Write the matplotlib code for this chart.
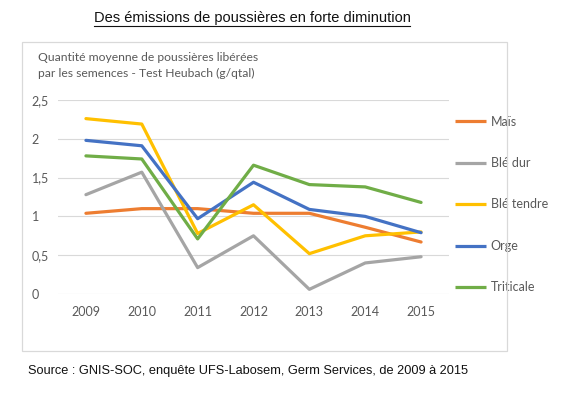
import matplotlib
matplotlib.use("Agg")
import matplotlib.pyplot as plt
from matplotlib.patches import Rectangle
from matplotlib.lines import Line2D

# ---------------------------------------------------------------------------
# Data
# ---------------------------------------------------------------------------
years = ["2009", "2010", "2011", "2012", "2013", "2014", "2015"]

mais = [1.04, 1.10, 1.10, 1.04, 1.04, 0.86, 0.67]
ble_dur = [1.28, 1.57, 0.34, 0.75, 0.06, 0.40, 0.48]
ble_tendre = [2.26, 2.19, 0.78, 1.15, 0.52, 0.75, 0.80]
orge = [1.98, 1.91, 0.97, 1.44, 1.09, 1.00, 0.79]
triticale = [1.78, 1.74, 0.71, 1.66, 1.41, 1.38, 1.18]

series_labels = ["Maïs", "Blé dur", "Blé tendre", "Orge", "Triticale"]
series_values = [mais, ble_dur, ble_tendre, orge, triticale]
series_colors = ["#ED7D31", "#A5A5A5", "#FFC000", "#4472C4", "#70AD47"]

y_ticks = [0, 0.5, 1, 1.5, 2, 2.5]
y_tick_labels = ["0", "0,5", "1", "1,5", "2", "2,5"]

TITLE = "Des émissions de poussières en forte diminution"
SUBTITLE = "Quantité moyenne de poussières libérées\npar les semences - Test Heubach (g/qtal)"
SOURCE = "Source : GNIS-SOC, enquête UFS-Labosem, Germ Services, de 2009 à 2015"

TEXT_GREY = "#595959"
FONT = ["Lato", "DejaVu Sans"]
W, H = 573, 395

# ---------------------------------------------------------------------------
# Figure
# ---------------------------------------------------------------------------
fig = plt.figure(figsize=(W / 100, H / 100), dpi=100)
fig.patch.set_facecolor("white")

# chart frame
fig.add_artist(Rectangle((22 / W, 1 - 351 / H), 485 / W, 309 / H,
                         transform=fig.transFigure, fill=False,
                         edgecolor="#D9D9D9", lw=0.9))

ax = fig.add_axes([58 / W, 1 - 294 / H, 391 / W, 194 / H])
x = list(range(len(years)))
for label, vals, color in zip(series_labels, series_values, series_colors):
    ax.plot(x, vals, color=color, lw=2.3, label=label, solid_capstyle="round")

ax.set_xlim(-0.5, len(years) - 0.5)
ax.set_ylim(0, 2.5)
ax.set_xticks(x)
ax.set_xticklabels(years, fontsize=9, color=TEXT_GREY, family=FONT)
ax.set_yticks(y_ticks)
ax.set_yticklabels(y_tick_labels, fontsize=9, color=TEXT_GREY, family=FONT,
                   ha="left")
ax.tick_params(axis="both", length=0)
ax.tick_params(axis="y", pad=19)
ax.tick_params(axis="x", pad=9)
ax.grid(axis="y", color="#D9D9D9", lw=0.8)
ax.set_axisbelow(True)
for sp in ax.spines.values():
    sp.set_visible(False)

leg = ax.legend(loc="center left", bbox_to_anchor=(455 / W, 1 - 204.5 / H),
                bbox_transform=fig.transFigure, frameon=False,
                handlelength=2.5, handletextpad=0.35, labelspacing=2.35,
                borderpad=0, borderaxespad=0,
                prop={"family": FONT, "size": 9})
for line in leg.get_lines():
    line.set_solid_capstyle("butt")
for t in leg.get_texts():
    t.set_color(TEXT_GREY)

# texts
fig.text(38 / W, 1 - 52 / H, SUBTITLE, fontsize=8.7, color=TEXT_GREY,
         family=FONT, va="top", linespacing=1.5)

title = fig.text(252 / W, 1 - 18 / H, TITLE, fontsize=10.5,
                 family="Liberation Sans", ha="center", va="center",
                 color="#111111")
fig.canvas.draw()
bb = title.get_window_extent(renderer=fig.canvas.get_renderer())
fig.add_artist(Line2D([bb.x0 / W, bb.x1 / W], [(bb.y0 - 1) / H] * 2,
                      transform=fig.transFigure, color="#111111", lw=0.8))

fig.text(28 / W, 1 - 371 / H, SOURCE, fontsize=9.2, family="Liberation Sans",
         va="center", color="#111111")

fig.savefig("out.png", dpi=100)
